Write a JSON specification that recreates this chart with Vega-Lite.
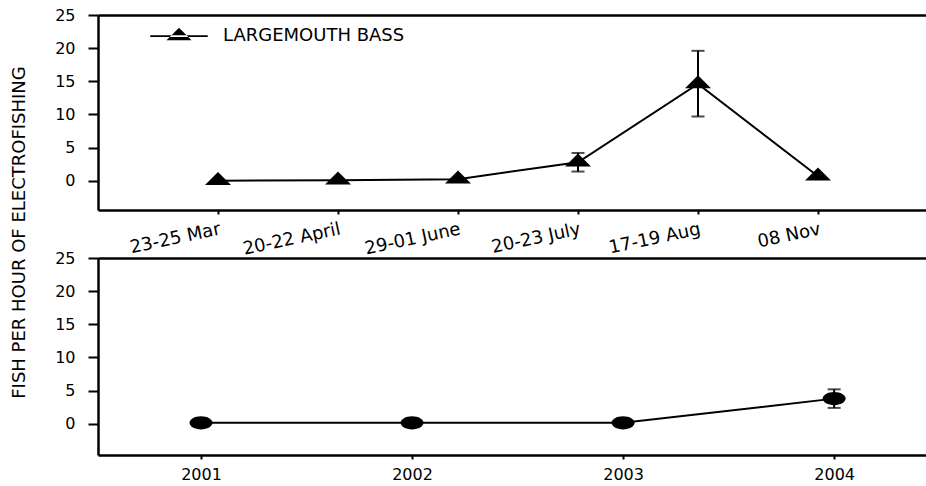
{
  "$schema": "https://vega.github.io/schema/vega-lite/v6.json",
  "padding": {"left": 9, "top": 7, "right": 0, "bottom": 0},
  "background": "white",
  "bounds": "flush",
  "spacing": 48,
  "config": {
    "view": {"stroke": null},
    "font": "DejaVu Sans",
    "axis": {
      "labelFont": "DejaVu Sans",
      "labelColor": "black",
      "domainColor": "black",
      "domainWidth": 2.5,
      "tickColor": "black",
      "tickWidth": 2,
      "titleFont": "DejaVu Sans",
      "titleColor": "black",
      "titleFontWeight": "normal",
      "labelOverlap": false
    }
  },
  "datasets": {
    "survey": [
      {"date": "23-25 Mar", "mean": 0.0, "lo": null, "hi": null, "species": "LARGEMOUTH BASS"},
      {"date": "20-22 April", "mean": 0.1, "lo": null, "hi": null, "species": "LARGEMOUTH BASS"},
      {"date": "29-01 June", "mean": 0.25, "lo": null, "hi": null, "species": "LARGEMOUTH BASS"},
      {"date": "20-23 July", "mean": 2.8, "lo": 1.4, "hi": 4.2, "species": "LARGEMOUTH BASS"},
      {"date": "17-19 Aug", "mean": 14.6, "lo": 9.7, "hi": 19.6, "species": "LARGEMOUTH BASS"},
      {"date": "08 Nov", "mean": 0.7, "lo": null, "hi": null, "species": "LARGEMOUTH BASS"}
    ],
    "annual": [
      {"year": 2001, "mean": 0.15, "lo": null, "hi": null},
      {"year": 2002, "mean": 0.15, "lo": null, "hi": null},
      {"year": 2003, "mean": 0.15, "lo": null, "hi": null},
      {"year": 2004, "mean": 3.8, "lo": 2.4, "hi": 5.2}
    ]
  },
  "vconcat": [
    {
      "width": 829,
      "height": 195,
      "data": {"name": "survey"},
      "layer": [
        {
          "mark": {"type": "line", "color": "black", "strokeWidth": 2},
          "encoding": {
            "x": {"field": "date", "type": "ordinal", "sort": null,
              "scale": {"type": "point", "padding": 0.954, "align": 0.524},
              "axis": {"title": null, "labelAngle": -12, "labelAlign": "right", "labelBaseline": "top", "labelFontSize": 18, "tickSize": 4, "labelPadding": 6}},
            "y": {"field": "mean", "type": "quantitative",
              "scale": {"domain": [-4.4, 25], "nice": false, "zero": false},
              "axis": {"values": [0, 5, 10, 15, 20, 25], "tickCount": 6, "tickSize": 10, "labelPadding": 13, "labelFontSize": 16,
                "grid": true, "gridColor": "black", "gridWidth": 2.5,
                "gridOpacity": {"condition": {"test": "datum.value === 25", "value": 1}, "value": 0},
                "title": "FISH PER HOUR OF ELECTROFISHING", "titleFontSize": 18, "titleX": -79, "titleY": 217,
                "titleAngle": 270, "titleAlign": "center", "titleBaseline": "middle"}}
          }
        },
        {
          "mark": {"type": "errorbar", "color": "black", "ticks": {"size": 13, "thickness": 2, "color": "black"}, "rule": {"strokeWidth": 2, "color": "black"}},
          "encoding": {
            "x": {"field": "date", "type": "ordinal", "sort": null},
            "y": {"field": "lo", "type": "quantitative",
              "axis": {"values": [0, 5, 10, 15, 20, 25], "tickCount": 6, "tickSize": 10, "labelPadding": 13, "labelFontSize": 16,
                "grid": true, "gridColor": "black", "gridWidth": 2.5,
                "gridOpacity": {"condition": {"test": "datum.value === 25", "value": 1}, "value": 0},
                "title": "FISH PER HOUR OF ELECTROFISHING", "titleFontSize": 18, "titleX": -79, "titleY": 217,
                "titleAngle": 270, "titleAlign": "center", "titleBaseline": "middle"}},
            "y2": {"field": "hi"}
          }
        },
        {
          "mark": {"type": "point", "filled": true, "opacity": 1, "shape": "M-1,0.33L1,0.33L0,-0.67Z", "size": 676},
          "encoding": {
            "x": {"field": "date", "type": "ordinal", "sort": null},
            "y": {"field": "mean", "type": "quantitative",
              "axis": {"values": [0, 5, 10, 15, 20, 25], "tickCount": 6, "tickSize": 10, "labelPadding": 13, "labelFontSize": 16,
                "grid": true, "gridColor": "black", "gridWidth": 2.5,
                "gridOpacity": {"condition": {"test": "datum.value === 25", "value": 1}, "value": 0},
                "title": "FISH PER HOUR OF ELECTROFISHING", "titleFontSize": 18, "titleX": -79, "titleY": 217,
                "titleAngle": 270, "titleAlign": "center", "titleBaseline": "middle"}},
            "color": {"field": "species", "type": "nominal", "scale": {"range": ["black"]},
              "legend": {"title": null, "orient": "none", "legendX": 68.5, "legendY": 8.5,
                "symbolType": "M-2.3,-0.07H2.3V0.07H-2.3ZM-1,0.33L1,0.33L0,-0.67Z", "symbolSize": 625,
                "symbolFillColor": "black", "symbolStrokeWidth": 0, "symbolOpacity": 1,
                "labelFontSize": 18, "labelFont": "DejaVu Sans", "labelColor": "black", "labelOffset": 31.5, "labelLimit": 0, "padding": 0}}
          }
        }
      ]
    },
    {
      "width": 829,
      "height": 197,
      "data": {"name": "annual"},
      "layer": [
        {
          "mark": {"type": "line", "color": "black", "strokeWidth": 2},
          "encoding": {
            "x": {"field": "year", "type": "quantitative",
              "scale": {"domain": [2000.512, 2004.44], "nice": false, "zero": false},
              "axis": {"values": [2001, 2002, 2003, 2004], "format": "d", "title": null, "labelFontSize": 16, "tickSize": 4, "labelPadding": 7, "labelAngle": 0, "grid": false}},
            "y": {"field": "mean", "type": "quantitative",
              "scale": {"domain": [-4.7, 25], "nice": false, "zero": false},
              "axis": {"values": [0, 5, 10, 15, 20, 25], "tickCount": 6, "tickSize": 10, "labelPadding": 13, "labelFontSize": 16,
                "grid": true, "gridColor": "black", "gridWidth": 2.5,
                "gridOpacity": {"condition": {"test": "datum.value === 25", "value": 1}, "value": 0},
                "title": null}}
          }
        },
        {
          "mark": {"type": "errorbar", "color": "black", "ticks": {"size": 13, "thickness": 2, "color": "black"}, "rule": {"strokeWidth": 2, "color": "black"}},
          "encoding": {
            "x": {"field": "year", "type": "quantitative"},
            "y": {"field": "lo", "type": "quantitative",
              "axis": {"values": [0, 5, 10, 15, 20, 25], "tickCount": 6, "tickSize": 10, "labelPadding": 13, "labelFontSize": 16,
                "grid": true, "gridColor": "black", "gridWidth": 2.5,
                "gridOpacity": {"condition": {"test": "datum.value === 25", "value": 1}, "value": 0},
                "title": null}},
            "y2": {"field": "hi"}
          }
        },
        {
          "mark": {"type": "point", "filled": true, "opacity": 1, "color": "black", "shape": "M-1,0A1,0.57 0 1,1 1,0A1,0.57 0 1,1 -1,0Z", "size": 529},
          "encoding": {
            "x": {"field": "year", "type": "quantitative"},
            "y": {"field": "mean", "type": "quantitative",
              "axis": {"values": [0, 5, 10, 15, 20, 25], "tickCount": 6, "tickSize": 10, "labelPadding": 13, "labelFontSize": 16,
                "grid": true, "gridColor": "black", "gridWidth": 2.5,
                "gridOpacity": {"condition": {"test": "datum.value === 25", "value": 1}, "value": 0},
                "title": null}}
          }
        }
      ]
    }
  ]
}
